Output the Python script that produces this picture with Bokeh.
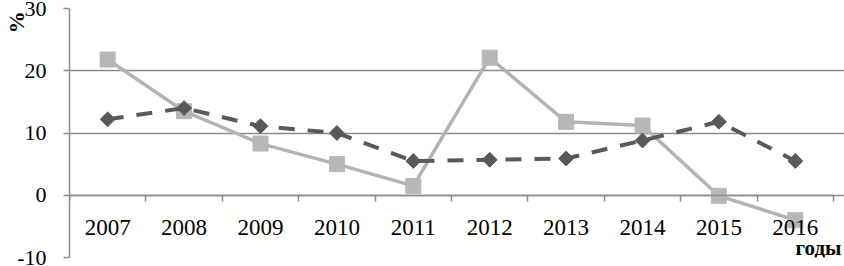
from bokeh.plotting import figure
from bokeh.models import FixedTicker, Range1d, ColumnDataSource, LinearAxis
from bokeh.embed import file_html
from bokeh.resources import INLINE
import math

years = ["2007", "2008", "2009", "2010", "2011", "2012", "2013", "2014", "2015", "2016"]
series_dark = [12.2, 14.0, 11.1, 10.0, 5.5, 5.7, 5.9, 8.8, 11.8, 5.5]
series_light = [21.8, 13.5, 8.3, 5.0, 1.5, 22.1, 11.8, 11.2, -0.1, -4.0]
y_ticks = [-10, 0, 10, 20, 30]
y_tick_labels = ["-10", "0", "10", "20", "30"]
y_label = "%"
x_label = "годы"

n = len(years)
xs = [i + 0.5 for i in range(n)]
src = ColumnDataSource(dict(x=xs, dark=series_dark, light=series_light))

FONT = "Liberation Serif"
GRID = "#8c8c8c"

# frame spans the full right side; the extra room past the last category
# (11px of 765px plot width) holds the "годы" label
p = figure(width=844, height=266, output_backend="svg", toolbar_location=None,
           x_range=Range1d(0, n * (1 + 11 / 765)), y_range=Range1d(-10, 30),
           min_border_left=68, min_border_right=0, min_border_top=8, min_border_bottom=9)
p.outline_line_color = None
p.background_fill_color = "white"
p.border_fill_color = "white"

# grid
p.xgrid.grid_line_color = None
p.ygrid.ticker = FixedTicker(ticks=y_ticks)
p.ygrid.grid_line_color = GRID
p.ygrid.grid_line_width = 1.5
p.ygrid.bounds = (0, n)

# y axis
ya = p.yaxis[0]
ya.ticker = FixedTicker(ticks=y_ticks)
ya.major_label_overrides = {t: s for t, s in zip(y_ticks, y_tick_labels)}
ya.axis_line_color = GRID
ya.axis_line_width = 1.5
ya.major_tick_line_color = GRID
ya.major_tick_line_width = 1.5
ya.major_tick_out = 6
ya.major_tick_in = 0
ya.minor_tick_line_color = None
ya.major_label_standoff = 17
ya.major_label_text_font = FONT
ya.major_label_text_font_size = "22px"
ya.major_label_text_color = "black"

# y title holder (label only); trailing no-break spaces push the "%" down from the top
ya2 = LinearAxis(bounds=(-10, 27.6), ticker=FixedTicker(ticks=[]),
                 axis_line_color=None, major_tick_line_color=None,
                 minor_tick_line_color=None, major_label_text_alpha=0,
                 axis_label=y_label + "\u00a0" * 5, axis_label_align="end",
                 axis_label_standoff=-14,
                 axis_label_text_font=FONT, axis_label_text_font_size="22px",
                 axis_label_text_font_style="bold", axis_label_text_color="black")
p.add_layout(ya2, "left")

# x axis at zero
xa = p.xaxis[0]
xa.fixed_location = 0
xa.bounds = (0, n)
xa.ticker = FixedTicker(ticks=xs, minor_ticks=list(range(n + 1)))
xa.major_label_overrides = {x: y for x, y in zip(xs, years)}
xa.axis_line_color = GRID
xa.axis_line_width = 1.5
xa.major_tick_line_color = None
xa.major_tick_out = 0
xa.major_tick_in = 0
xa.minor_tick_line_color = GRID
xa.minor_tick_line_width = 1.5
xa.minor_tick_out = 6
xa.minor_tick_in = 0
xa.major_label_standoff = 19
xa.major_label_text_font = FONT
xa.major_label_text_font_size = "23px"
xa.major_label_text_color = "black"

# x title holder (label only)
xa2 = LinearAxis(fixed_location=0, bounds=(0, 9.8), ticker=FixedTicker(ticks=[]),
                 axis_line_color=None, major_tick_line_color=None,
                 minor_tick_line_color=None, major_label_text_alpha=0,
                 axis_label=x_label, axis_label_align="end", axis_label_standoff=40,
                 axis_label_text_font=FONT, axis_label_text_font_size="21px",
                 axis_label_text_font_style="bold", axis_label_text_color="black")
p.add_layout(xa2, "below")

# series
p.line("x", "light", source=src, line_color="#b3b3b3", line_width=3.5)
p.scatter("x", "light", source=src, marker="square", size=15,
          fill_color="#b7b7b7", line_color="#b7b7b7")
p.line("x", "dark", source=src, line_color="#595959", line_width=4, line_dash="16 13")
p.scatter("x", "dark", source=src, marker="square", size=10.5, angle=math.pi / 4,
          fill_color="#595959", line_color="#595959")

open("out.html", "w").write(file_html(p, INLINE))
